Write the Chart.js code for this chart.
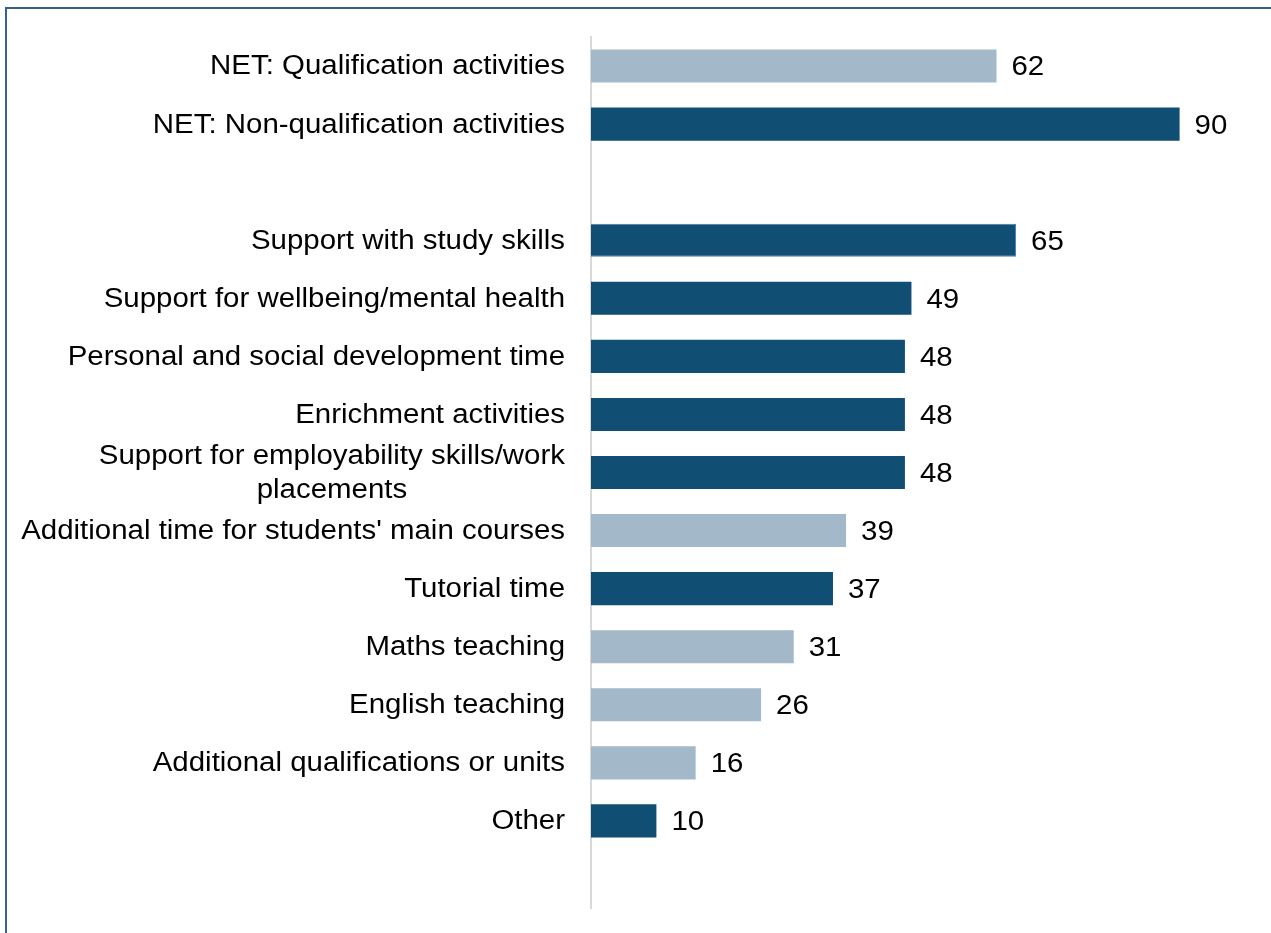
<!DOCTYPE html>
<html>
<head>
<meta charset="utf-8">
<script src="https://cdn.jsdelivr.net/npm/chart.js@4/dist/chart.umd.min.js"></script>
<style>
  html, body { margin: 0; padding: 0; background: #fff; overflow: hidden; }
  #frame {
    position: absolute; left: 5px; top: 7px; width: 1400px; height: 1000px;
    border-left: 2px solid #35608f; border-top: 2px solid #35608f;
  }
  #wrap { position: absolute; left: 0; top: 0; width: 1271px; height: 933px; }
</style>
</head>
<body>
<div id="frame"></div>
<div id="wrap"><canvas id="activityChart" width="1271" height="933"></canvas></div>
<script>
const categories = [
  "NET: Qualification activities",
  "NET: Non-qualification activities",
  "",
  "Support with study skills",
  "Support for wellbeing/mental health",
  "Personal and social development time",
  "Enrichment activities",
  ["Support for employability skills/work", "placements"],
  "Additional time for students' main courses",
  "Tutorial time",
  "Maths teaching",
  "English teaching",
  "Additional qualifications or units",
  "Other",
  ""
];

const percentages = [62, 90, null, 65, 49, 48, 48, 48, 39, 37, 31, 26, 16, 10, null];

// q = qualification activity, n = non-qualification activity
const activityType = ["q", "n", "", "n", "n", "n", "n", "n", "q", "n", "q", "q", "q", "n", ""];

const DARK = "#114e73";
const LIGHT = "#a3b9c9";
const LABEL_FONT = "27px 'Liberation Sans', Arial, sans-serif";
const TEXT_STRETCH = 1.09; // text is drawn slightly wide
const AXIS_X = 591;

function drawWide(ctx, text, x, y, align) {
  ctx.save();
  ctx.translate(x, y);
  ctx.scale(TEXT_STRETCH, 1);
  ctx.textAlign = align;
  ctx.fillText(text, 0, 0);
  ctx.restore();
}

const categoryLabels = {
  id: "categoryLabels",
  afterDraw(chart) {
    const ctx = chart.ctx;
    const yScale = chart.scales.y;
    const right = yScale.right - 26;
    ctx.save();
    ctx.font = LABEL_FONT;
    ctx.fillStyle = "#000";
    ctx.textBaseline = "middle";
    categories.forEach((label, i) => {
      if (!label) return;
      const y = yScale.getPixelForValue(i) + 1;
      const lines = Array.isArray(label) ? label : [label];
      const lineHeight = 34;
      const maxW = Math.max(...lines.map(l => ctx.measureText(l).width)) * TEXT_STRETCH;
      const top = y - (lines.length - 1) * lineHeight / 2;
      lines.forEach((line, k) => {
        if (lines.length > 1) {
          drawWide(ctx, line, right - maxW / 2, top + k * lineHeight, "center");
        } else {
          drawWide(ctx, line, right, top, "right");
        }
      });
    });
    ctx.restore();
  }
};

const valueLabels = {
  id: "valueLabels",
  afterDatasetsDraw(chart) {
    const ctx = chart.ctx;
    const meta = chart.getDatasetMeta(0);
    ctx.save();
    ctx.font = LABEL_FONT;
    ctx.fillStyle = "#000";
    ctx.textBaseline = "middle";
    meta.data.forEach((bar, i) => {
      const v = percentages[i];
      if (v === null) return;
      drawWide(ctx, String(v), bar.x + 15, bar.y + 2, "left");
    });
    ctx.restore();
  }
};

new Chart(document.getElementById("activityChart").getContext("2d"), {
  type: "bar",
  data: {
    labels: categories,
    datasets: [
      {
        data: percentages,
        backgroundColor: activityType.map(t => (t === "q" ? LIGHT : DARK)),
        borderColor: activityType.map((t, i) => (i === 3 ? "#4a7bb0" : "rgba(0,0,0,0)")),
        borderWidth: activityType.map((t, i) => (i === 3 ? 1 : 0)),
        barPercentage: 1,
        categoryPercentage: 0.57
      }
    ]
  },
  options: {
    indexAxis: "y",
    responsive: false,
    animation: false,
    layout: {
      padding: { left: AXIS_X, right: 26, top: 37, bottom: 25 }
    },
    plugins: {
      legend: { display: false },
      tooltip: { enabled: false }
    },
    scales: {
      x: {
        display: false,
        min: 0,
        max: 100
      },
      y: {
        grid: { display: false, drawTicks: false },
        border: { display: true, color: "#d9d9d9", width: 2 },
        ticks: { display: false }
      }
    }
  },
  plugins: [categoryLabels, valueLabels]
});
</script>
</body>
</html>
